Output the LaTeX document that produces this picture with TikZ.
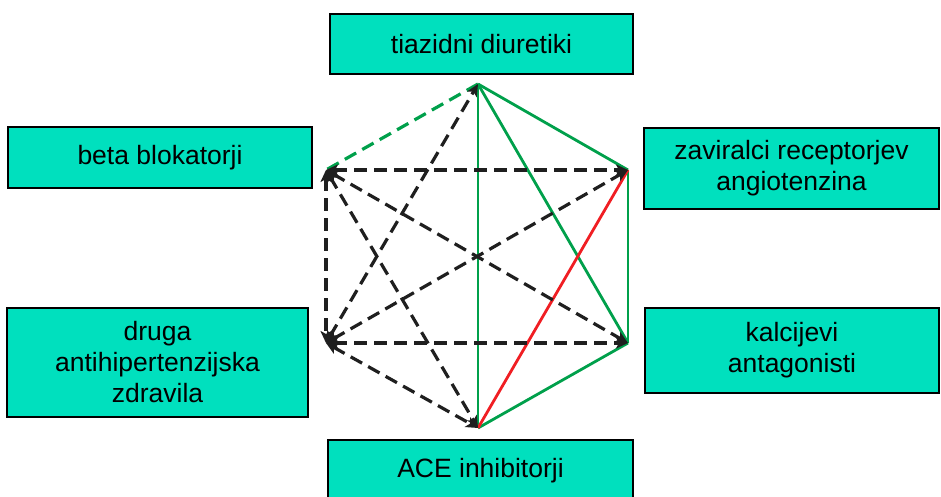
\documentclass[tikz,border=0pt]{standalone}
\usepackage{fontspec}
\setmainfont{Liberation Sans}
\usetikzlibrary{arrows.meta}
\definecolor{boxfill}{RGB}{0,224,190}
\definecolor{lgreen}{RGB}{0,160,75}
\definecolor{lred}{RGB}{240,30,35}
\tikzset{
  drugbox/.style={draw=black, line width=2pt, fill=boxfill, inner sep=0pt, align=center,
    font=\fontsize{26.5}{31}\selectfont},
  blackarrow/.style={draw=black!88, line width=3.2pt, dash pattern=on 13pt off 7pt,
    {Stealth[length=12pt,width=11pt,inset=3pt]}-{Stealth[length=12pt,width=11pt,inset=3pt]}},
  greendash/.style={draw=lgreen, line width=3.2pt, dash pattern=on 13pt off 7pt},
  greenline/.style={draw=lgreen, line width=2.8pt},
  redline/.style={draw=lred, line width=2.8pt}
}
\begin{document}
\begin{tikzpicture}[x=1pt,y=-1pt]
\useasboundingbox (0,0) rectangle (941,497);
\begin{scope}
\clip (0,0) rectangle (941,497);
\node[drugbox, minimum width=303pt, minimum height=60pt] (tiaz) at (481.5,44) {tiazidni diuretiki};
\node[drugbox, minimum width=304pt, minimum height=61pt] (beta) at (160,157.5) {beta blokatorji};
\node[drugbox, minimum width=295pt, minimum height=81pt] (arb) at (791.5,168.5) {zaviralci receptorjev\\angiotenzina};
\node[drugbox, minimum width=301pt, minimum height=109pt] (druga) at (157.5,362.5) {druga\\antihipertenzijska\\zdravila};
\node[drugbox, minimum width=294pt, minimum height=85pt] (kalc) at (792,350.5) {kalcijevi\\antagonisti};
\node[drugbox, minimum width=305pt, minimum height=62pt] (ace) at (480.5,471) {ACE inhibitorji};
\end{scope}
\coordinate (T) at (478,84);
\coordinate (UL) at (326,170);
\coordinate (UR) at (628,170);
\coordinate (LL) at (326,343);
\coordinate (LR) at (628,343);
\coordinate (B) at (478,428);
% green / red solid
\draw[greenline] (T) -- (B);
\draw[greenline] (T) -- (UR);
\draw[greenline] (T) -- (LR);
\draw[greenline] (UR) -- (LR);
\draw[greenline] (LR) -- (B);
\draw[redline] (UR) -- (B);
\draw[greendash] (T) -- (UL);
% black dashed double arrows
\draw[blackarrow] (UL) -- (UR);
\draw[blackarrow] (UL) -- (LR);
\draw[blackarrow] (UL) -- (LL);
\draw[blackarrow] (UL) -- (B);
\draw[blackarrow] (LL) -- (T);
\draw[blackarrow] (LL) -- (UR);
\draw[blackarrow] (LL) -- (LR);
\draw[blackarrow] (LL) -- (B);
\end{tikzpicture}
\end{document}
